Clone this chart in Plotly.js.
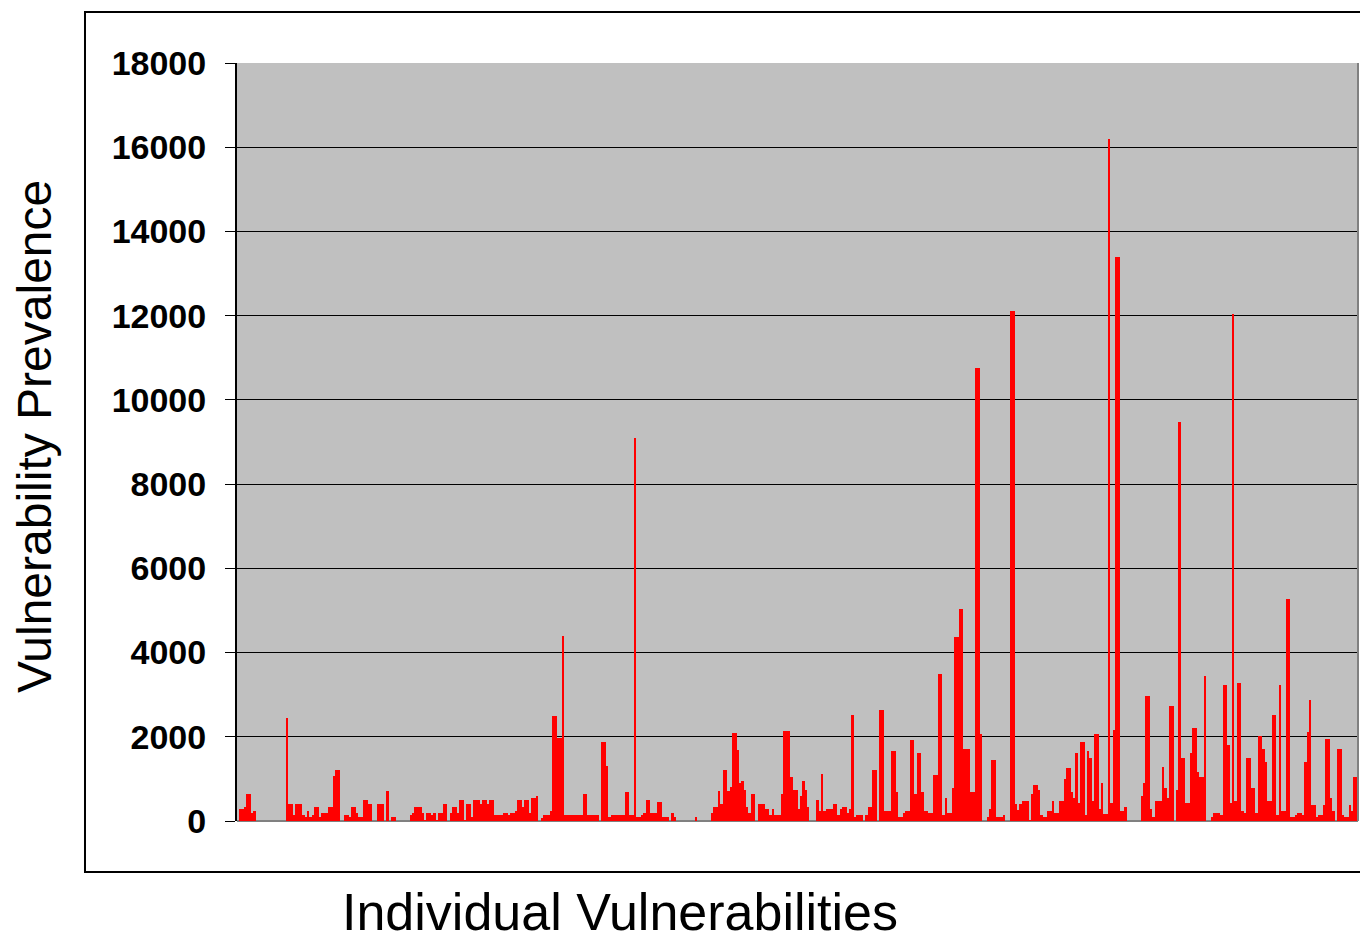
<!DOCTYPE html>
<html>
<head>
<meta charset="utf-8">
<script src="https://cdn.plot.ly/plotly-3.0.1.min.js"></script>
<style>html,body{margin:0;padding:0;background:#fff;}#chart{width:1360px;height:945px;}</style>
</head>
<body>
<div id="chart"></div>
<script>
// Prevalence of each individual vulnerability (left to right)
const prevalence = [
  0,290,290,340,640,640,180,240,0,0,
  0,0,0,0,0,0,0,0,0,0,
  0,2440,400,400,145,400,400,400,145,100,
  240,100,145,336,336,100,185,185,185,336,
  336,1060,1220,1220,0,0,135,135,100,336,
  336,185,96,96,490,490,392,392,0,0,
  392,392,392,0,704,0,88,88,0,0,
  0,0,0,0,136,185,336,336,336,185,
  24,185,185,136,185,24,185,185,392,392,
  0,185,336,336,185,490,490,24,392,392,
  88,490,490,490,392,490,490,392,490,490,
  136,136,136,136,185,185,136,185,185,240,
  490,490,336,490,490,185,552,552,600,0,
  80,143,143,143,247,2495,2495,1977,1977,4392,
  143,143,143,143,143,143,143,143,646,646,
  143,143,143,143,143,0,1881,1881,1315,88,
  143,143,143,143,143,143,700,700,143,143,
  9086,104,104,144,185,490,490,185,185,185,
  440,440,96,96,96,0,185,88,0,0,
  0,0,0,0,0,0,88,0,0,0,
  0,0,0,185,336,336,704,392,1205,1205,
  704,800,2080,2080,1680,904,944,744,344,185,
  640,640,0,400,400,400,288,288,144,288,
  144,144,144,640,2128,2128,2128,1056,744,744,
  288,592,944,744,336,0,0,0,490,240,
  1112,240,288,288,288,392,392,144,288,336,
  326,183,294,2525,87,135,135,135,0,135,
  326,326,1200,1200,0,2628,2628,238,238,238,
  1652,1652,690,87,87,183,238,238,1913,1913,
  635,1612,1612,690,238,238,183,183,1104,1104,
  3500,3500,143,540,183,183,786,4375,4375,5026,
  5026,1715,1715,1715,699,699,10750,10750,2072,0,
  0,87,278,1453,1453,87,87,87,135,0,
  0,12100,12100,397,270,397,484,484,484,24,
  635,850,850,738,135,87,87,238,238,484,
  183,183,484,484,992,1254,1254,683,548,1612,
  421,1866,1866,135,1652,1493,484,2072,2072,278,
  897,167,167,16200,421,2168,13400,13400,238,238,
  326,0,0,0,0,0,0,595,897,2978,
  2978,278,87,484,484,484,1294,786,540,2739,
  2739,0,738,9480,1493,1493,437,437,1612,2215,
  2215,1167,1048,1048,3438,0,0,87,183,183,
  183,135,3240,3240,1810,437,12050,484,3280,3280,
  246,183,1493,1493,786,786,183,2025,2025,1707,
  1413,484,484,2525,2525,135,3240,246,246,5280,
  5280,87,87,135,183,183,135,1413,2104,2882,
  381,381,87,135,135,381,1953,1953,548,238,
  0,1715,1715,135,87,87,381,238,1040,1040
];
const vulnerabilityIndex = prevalence.map((_, i) => i);
const yTicks = [0, 2000, 4000, 6000, 8000, 10000, 12000, 14000, 16000, 18000];
const xTitle = "Individual Vulnerabilities";
const yTitle = "Vulnerability Prevalence";

const FONT = '"Liberation Sans", Arial, Helvetica, sans-serif';

const trace = {
  type: 'bar',
  x: vulnerabilityIndex,
  y: prevalence,
  marker: {color: '#FF0000', line: {width: 0}},
  hoverinfo: 'y'
};

const layout = {
  width: 1360,
  height: 945,
  margin: {l: 237, r: 2, t: 63, b: 124, pad: 0},
  paper_bgcolor: '#FFFFFF',
  plot_bgcolor: '#C0C0C0',
  bargap: 0,
  showlegend: false,
  font: {family: FONT, color: '#000'},
  xaxis: {
    range: [-0.5, prevalence.length - 0.5],
    showticklabels: false,
    ticks: '',
    showgrid: false,
    zeroline: false,
    showline: false,
    fixedrange: true
  },
  yaxis: {
    range: [0, 18000],
    tickmode: 'array',
    tickvals: yTicks,
    ticktext: yTicks.map(String),
    ticks: 'outside',
    ticklen: 10,
    tickwidth: 1,
    tickcolor: '#000',
    ticklabelstandoff: 12,
    tickfont: {family: FONT, size: 34, weight: 'bold', color: '#000'},
    showgrid: true,
    gridcolor: '#000000',
    gridwidth: 1,
    showline: true,
    linecolor: '#000',
    linewidth: 2,
    zeroline: true,
    zerolinecolor: '#808080',
    zerolinewidth: 2,
    fixedrange: true
  },
  shapes: [
    {type: 'rect', xref: 'paper', yref: 'paper', x0: -0.1356, x1: 1.05, y0: -0.0673, y1: 1.0673,
     line: {color: '#000', width: 2}, fillcolor: 'rgba(0,0,0,0)'},
    {type: 'line', xref: 'paper', yref: 'paper', x0: 1, x1: 1, y0: 0, y1: 1,
     line: {color: '#808080', width: 2}}
  ],
  annotations: [
    {text: xTitle, xref: 'paper', yref: 'paper', x: 0.3417, y: -0.1201,
     xanchor: 'center', yanchor: 'middle', showarrow: false,
     font: {family: FONT, size: 52, color: '#000'}},
    {text: yTitle, xref: 'paper', yref: 'paper', x: -0.1802, y: 0.508,
     xanchor: 'center', yanchor: 'middle', textangle: -90, showarrow: false,
     font: {family: FONT, size: 48, color: '#000'}}
  ]
};

Plotly.newPlot('chart', [trace], layout, {displayModeBar: false, staticPlot: true});
</script>
</body>
</html>
